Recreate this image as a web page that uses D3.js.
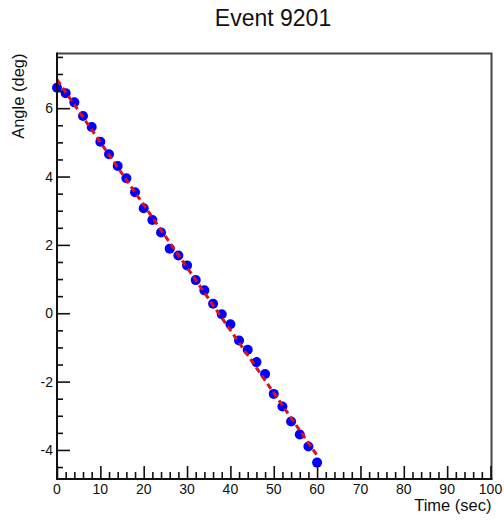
<!DOCTYPE html>
<html>
<head>
<meta charset="utf-8">
<script src="https://cdn.jsdelivr.net/npm/d3@7"></script>
<style>
  html, body { margin: 0; padding: 0; background: #fff; }
  svg { display: block; }
  text { font-family: "Liberation Sans", Arial, Helvetica, sans-serif; fill: #111; }
</style>
</head>
<body>
<svg id="chart" width="504" height="523"></svg>
<script>
// Measured angle vs. time for one event (sampled every 2 s)
const times = [0, 2, 4, 6, 8, 10, 12, 14, 16, 18, 20, 22, 24, 26, 28, 30,
               32, 34, 36, 38, 40, 42, 44, 46, 48, 50, 52, 54, 56, 58, 60];
const angles = [6.60, 6.44, 6.17, 5.77, 5.45, 5.02, 4.65, 4.31, 3.95, 3.54, 3.07,
                2.73, 2.36, 1.89, 1.69, 1.40, 0.97, 0.67, 0.28, -0.03, -0.32,
                -0.80, -1.07, -1.43, -1.78, -2.36, -2.73, -3.17, -3.55, -3.90, -4.37];
const xTickValues = [0, 10, 20, 30, 40, 50, 60, 70, 80, 90, 100];
const yTickValues = [-4, -2, 0, 2, 4, 6];
const titleText = "Event 9201";
const xTitle = "Time (sec)";
const yTitle = "Angle (deg)";

const svg = d3.select("#chart");
const padL = 57, padR = 490.5, padT = 53.5, padB = 479;

const x = d3.scaleLinear().domain([0, 100]).range([padL, padR]);
const y = d3.scaleLinear().domain([-4.85, 7.6]).range([padB, padT]);

// Frame (top and right sides)
svg.append("path")
  .attr("d", `M${padL},${padT}H${padR + 1}V${padB}`)
  .attr("fill", "none").attr("stroke", "#444").attr("stroke-width", 2);

// Straight-line least-squares fit over the data range
const n = times.length;
const mt = d3.mean(times), ma = d3.mean(angles);
let sxy = 0, sxx = 0;
for (let i = 0; i < n; i++) {
  sxy += (times[i] - mt) * (angles[i] - ma);
  sxx += (times[i] - mt) * (times[i] - mt);
}
const slope = sxy / sxx, intercept = ma - slope * mt;
const fitT = [d3.min(times), d3.max(times)];

// Data markers
svg.append("g").selectAll("circle")
  .data(times.map((t, i) => [t, angles[i]]))
  .join("circle")
  .attr("cx", d => x(d[0]))
  .attr("cy", d => y(d[1]))
  .attr("r", 5)
  .attr("fill", "#0000ff");

// Fit line drawn over the markers
svg.append("path")
  .datum(fitT.map(t => [t, intercept + slope * t]))
  .attr("d", d3.line().x(d => x(d[0])).y(d => y(d[1])))
  .attr("fill", "none")
  .attr("stroke", "#e0101a")
  .attr("stroke-width", 3)
  .attr("stroke-dasharray", "6,4");

// X axis: major ticks every 10, minor every 2, ticks pointing inward
const xMinor = d3.range(0, 100.001, 2).filter(v => v % 10 !== 0);
const gx = svg.append("g").attr("transform", `translate(0,${padB})`);
gx.append("g").call(d3.axisTop(x).tickValues(xMinor).tickSize(7).tickFormat(""))
  .call(g => g.select(".domain").remove());
gx.append("g").call(d3.axisTop(x).tickValues(xTickValues).tickSize(13).tickFormat(""))
  .call(g => g.select(".domain").remove());
gx.selectAll("line").attr("stroke", "#111").attr("stroke-width", 1.6);
gx.append("line").attr("x1", padL - 1).attr("x2", padR + 2)
  .attr("stroke", "#111").attr("stroke-width", 2);
gx.append("g").selectAll("text").data(xTickValues).join("text")
  .attr("x", d => x(d)).attr("y", 15)
  .attr("text-anchor", "middle").attr("font-size", 14)
  .text(d => d);

// Y axis: major ticks every 2, minor every 0.5, ticks pointing inward
const yMinor = d3.range(-4.5, 7.6, 0.5).filter(v => Math.abs(v % 2) > 1e-9);
const gy = svg.append("g").attr("transform", `translate(${padL},0)`);
gy.append("g").call(d3.axisRight(y).tickValues(yMinor).tickSize(6).tickFormat(""))
  .call(g => g.select(".domain").remove());
gy.append("g").call(d3.axisRight(y).tickValues(yTickValues).tickSize(13).tickFormat(""))
  .call(g => g.select(".domain").remove());
gy.selectAll("line").attr("stroke", "#111").attr("stroke-width", 1.6);
gy.append("line").attr("y1", padT - 1).attr("y2", padB + 1)
  .attr("stroke", "#111").attr("stroke-width", 2);
gy.append("g").selectAll("text").data(yTickValues).join("text")
  .attr("x", -4).attr("y", d => y(d)).attr("dy", "0.36em")
  .attr("text-anchor", "end").attr("font-size", 14)
  .text(d => d);

// Titles
svg.append("text").attr("x", 273).attr("y", 26)
  .attr("text-anchor", "middle").attr("font-size", 23)
  .text(titleText);
svg.append("text").attr("x", padR + 1).attr("y", 511)
  .attr("text-anchor", "end").attr("font-size", 16.5)
  .text(xTitle);
svg.append("text")
  .attr("transform", `translate(24,${padT}) rotate(-90)`)
  .attr("text-anchor", "end").attr("font-size", 16.5)
  .text(yTitle);
</script>
</body>
</html>
